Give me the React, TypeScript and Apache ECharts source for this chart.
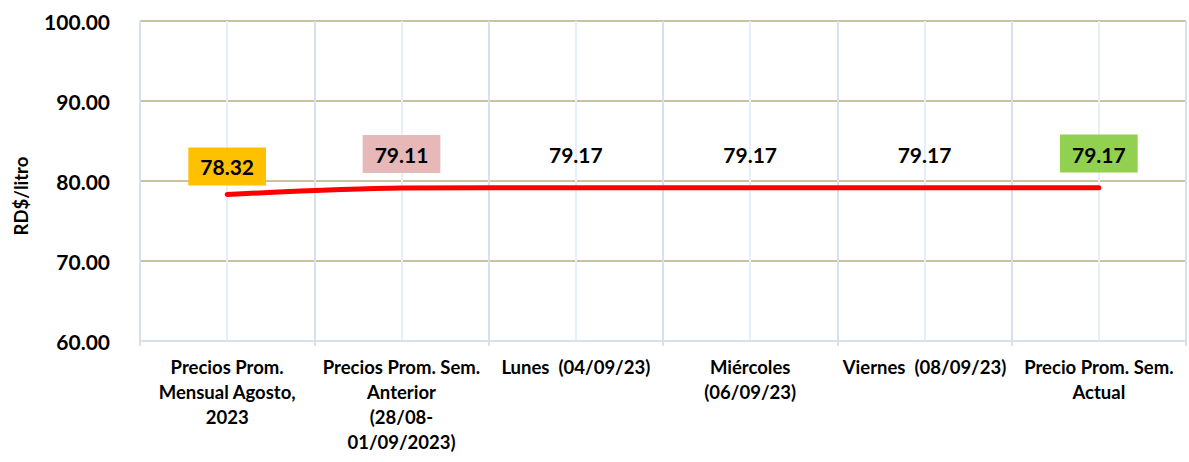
import React, { useEffect, useRef } from "react";
import * as echarts from "echarts";

const categories = [
  "Precios Prom.\nMensual Agosto,\n2023",
  "Precios Prom. Sem.\nAnterior\n(28/08-\n01/09/2023)",
  "Lunes  (04/09/23)",
  "Miércoles\n(06/09/23)",
  "Viernes  (08/09/23)",
  "Precio Prom. Sem.\nActual",
];
const prices = [78.32, 79.11, 79.17, 79.17, 79.17, 79.17];
const yTicks = { min: 60, max: 100, interval: 10 };
const yAxisTitle = "RD$/litro";

const FONT = "Lato";

export default function App() {
  const ref = useRef<HTMLDivElement>(null);
  useEffect(() => {
    document.body.style.margin = "0";
    const chart = echarts.init(ref.current!, null, { renderer: "svg" });
    const labelBg = ["#FFC000", "#E6B8B7", "transparent", "transparent", "transparent", "#92D050"];
    const labelDist = [9, 15, 15, 15, 15, 15];
    chart.setOption({
      animation: false,
      backgroundColor: "#ffffff",
      grid: { left: 140, right: 3, top: 21, bottom: 121, containLabel: false },
      graphic: [
        {
          type: "text",
          x: 21,
          y: 196,
          rotation: Math.PI / 2,
          style: {
            text: yAxisTitle,
            fontFamily: FONT,
            fontWeight: "bold",
            fontSize: 18.5,
            fill: "#000",
            align: "center",
            verticalAlign: "middle",
          },
        },
      ],
      xAxis: [
        {
          type: "category",
          data: categories,
          boundaryGap: true,
          axisLine: { show: true, lineStyle: { color: "#D6E0EE", width: 2 } },
          axisTick: { show: true, length: 5, lineStyle: { color: "#D6E0EE", width: 2 } },
          splitLine: { show: false },
          axisLabel: {
            interval: 0,
            margin: 13,
            fontFamily: FONT,
            fontWeight: "bold",
            fontSize: 18.5,
            lineHeight: 25,
            color: "#000",
            align: "center",
          },
        },
        {
          type: "value",
          min: 0,
          max: 6,
          interval: 0.5,
          position: "top",
          axisLine: { show: false },
          axisTick: { show: false },
          axisLabel: { show: false },
          splitLine: {
            show: true,
            lineStyle: { color: ["#D6E0EE", "#E8EEF7"], width: 2 },
          },
        },
      ],
      yAxis: {
        type: "value",
        min: yTicks.min,
        max: yTicks.max,
        interval: yTicks.interval,
        axisLine: { show: true, lineStyle: { color: "#D6E0EE", width: 2 } },
        axisTick: { show: false },
        splitLine: { show: true, lineStyle: { color: "#C9C2A2", width: 2 } },
        axisLabel: {
          margin: 30,
          fontFamily: FONT,
          fontWeight: "bold",
          fontSize: 21,
          color: "#000",
          formatter: (v: number) => v.toFixed(2),
        },
      },
      series: [
        {
          type: "line",
          xAxisIndex: 0,
          z: 3,
          data: prices.map((v, i) => ({
            value: v,
            label: {
              backgroundColor: labelBg[i],
              distance: labelDist[i],
            },
          })),
          smooth: 0.3,
          showSymbol: true,
          symbol: "circle",
          symbolSize: 0.1,
          itemStyle: { color: "#FF0000" },
          lineStyle: { color: "#FF0000", width: 5, cap: "round" },
          labelLayout: { hideOverlap: false },
          label: {
            show: true,
            opacity: 1,
            position: "top",
            fontFamily: FONT,
            fontWeight: "bold",
            fontSize: 21,
            color: "#000",
            padding: [9, 12, 8, 12],
            formatter: (p: any) => Number(p.value).toFixed(2),
          },
        },
      ],
    });
    return () => chart.dispose();
  }, []);
  return <div ref={ref} style={{ width: 1189, height: 462 }} />;
}
